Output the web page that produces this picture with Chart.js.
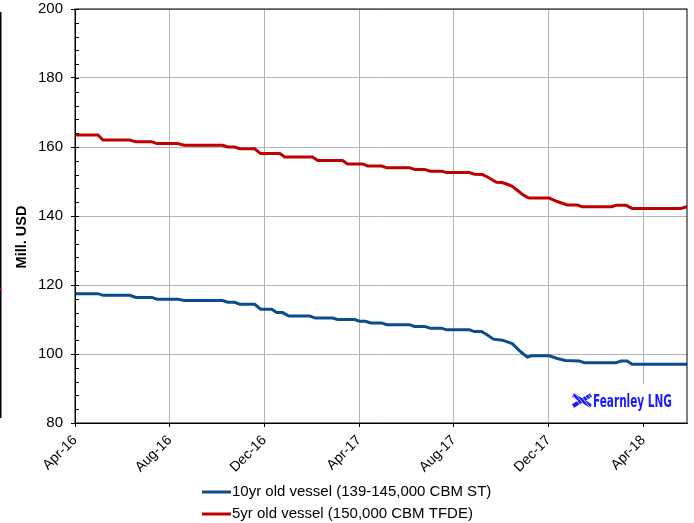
<!DOCTYPE html>
<html>
<head>
<meta charset="utf-8">
<script src="https://cdn.jsdelivr.net/npm/chart.js@4.4.0/dist/chart.umd.min.js"></script>
<style>
  html, body { margin: 0; padding: 0; background: #fff; }
  #wrap { width: 694px; height: 523px; position: relative; }
</style>
</head>
<body>
<div id="wrap"><canvas id="vesselChart" width="694" height="523"></canvas></div>
<script>
// tick labels, one every 4 months starting Apr-16 (x = months since Apr-16)
const xLabels = ["Apr-16", "Aug-16", "Dec-16", "Apr-17", "Aug-17", "Dec-17", "Apr-18"];

const seriesNames = ["10yr old vessel (139-145,000 CBM ST)", "5yr old vessel (150,000 CBM TFDE)"];

const blueMonths = [0, 0.97, 1.18, 2.32, 2.57, 3.25, 3.46, 4.34, 4.60, 6.24, 6.45, 6.75, 6.96, 7.59,
    7.84, 8.31, 8.52, 8.77, 9.03, 9.91, 10.16, 10.88, 11.09, 11.81, 12.02, 12.27, 12.48, 12.95,
    13.16, 14.13, 14.34, 14.76, 15.01, 15.48, 15.69, 16.66, 16.87, 17.17, 17.42, 17.67, 18.05,
    18.26, 18.47, 18.77, 18.94, 19.11, 19.27, 20.03, 20.37, 20.71, 21.30, 21.51, 22.86, 23.07,
    23.32, 23.53, 25.85];
const blueValues = [117.5, 117.5, 117.0, 117.0, 116.4, 116.4, 115.9, 115.9, 115.5, 115.5, 115.0, 115.0, 114.4, 114.4,
    113.0, 113.0, 112.0, 112.0, 111.0, 111.0, 110.4, 110.4, 110.0, 110.0, 109.5, 109.5, 109.0, 109.0,
    108.5, 108.5, 108.0, 108.0, 107.5, 107.5, 107.0, 107.0, 106.5, 106.5, 105.5, 104.3, 104.0,
    103.5, 103.0, 101.0, 100.0, 99.1, 99.5, 99.5, 98.7, 98.1, 98.0, 97.5, 97.5, 98.0,
    98.0, 97.0, 97.0];

const redMonths = [0, 0.97, 1.18, 2.32, 2.57, 3.25, 3.46, 4.34, 4.60, 6.24, 6.45, 6.75, 6.96, 7.59,
    7.84, 8.65, 8.86, 10.04, 10.25, 11.30, 11.51, 12.15, 12.36, 12.95, 13.16, 14.13, 14.34, 14.76,
    15.01, 15.48, 15.69, 16.66, 16.87, 17.21, 17.42, 17.80, 18.05, 18.26, 18.47, 18.89, 19.11,
    19.19, 20.03, 20.37, 20.79, 21.21, 21.42, 22.65, 22.86, 23.28, 23.53, 25.59, 25.85];
const redValues = [163.5, 163.5, 162.0, 162.0, 161.5, 161.5, 161.0, 161.0, 160.5, 160.5, 160.0, 160.0, 159.5, 159.5,
    158.1, 158.1, 157.1, 157.1, 156.1, 156.1, 155.1, 155.1, 154.5, 154.5, 154.0, 154.0, 153.5, 153.5,
    153.0, 153.0, 152.6, 152.6, 152.1, 152.0, 151.3, 149.8, 149.7, 149.2, 148.6, 146.3, 145.4,
    145.2, 145.2, 144.2, 143.2, 143.2, 142.7, 142.7, 143.1, 143.1, 142.2, 142.2, 142.7];

const blueColor = "#0b4d8c";
const redColor = "#c00000";
const gridColor = "#b4b4b4";
const font = "'Liberation Sans', Arial, sans-serif";

function toPoints(xs, ys) {
    return xs.map((x, i) => ({ x: x, y: ys[i] }));
}

const extras = {
    id: "extras",
    afterDatasetsDraw(chart) {
        const ctx = chart.ctx;
        const ca = chart.chartArea;
        const yScale = chart.scales.y;

        // logo box
        ctx.save();
        ctx.fillStyle = "#fff";
        ctx.fillRect(ca.right - 129, ca.bottom - 39, 128, 38);

        ctx.fillStyle = "#1a1aff";
        ctx.strokeStyle = "#1a1aff";
        ctx.lineWidth = 4;
        ctx.beginPath();
        ctx.moveTo(ca.right - 114, ca.bottom - 28);
        ctx.lineTo(ca.right - 96, ca.bottom - 17);
        ctx.moveTo(ca.right - 114, ca.bottom - 17);
        ctx.lineTo(ca.right - 96, ca.bottom - 28);
        ctx.stroke();
        ctx.strokeStyle = "#fff";
        ctx.lineWidth = 0.7;
        for (let i = 0; i < 6; i++) {
            ctx.beginPath();
            ctx.moveTo(ca.right - 116 + i * 4, ca.bottom - 30);
            ctx.lineTo(ca.right - 104 + i * 4, ca.bottom - 14);
            ctx.stroke();
        }

        ctx.font = "bold 18px 'DejaVu Sans Condensed', 'DejaVu Sans', sans-serif";
        ctx.textBaseline = "alphabetic";
        const w = ctx.measureText("Fearnley LNG").width;
        ctx.translate(ca.right - 94, ca.bottom - 16);
        ctx.scale(79 / w, 1);
        ctx.fillText("Fearnley LNG", 0, 0);
        ctx.restore();

        // plot frame + inner ticks
        ctx.save();
        ctx.strokeStyle = "#000";
        ctx.lineWidth = 1;
        ctx.strokeRect(ca.left, ca.top, ca.right - ca.left, ca.bottom - ca.top);
        ctx.beginPath();
        yScale.ticks.forEach(t => {
            const py = Math.round(yScale.getPixelForValue(t.value)) + 0.5;
            ctx.moveTo(ca.left, py);
            ctx.lineTo(ca.left + 4, py);
        });
        ctx.stroke();
        ctx.restore();
    },
    afterDraw(chart) {
        const ctx = chart.ctx;

        // y title
        ctx.save();
        ctx.fillStyle = "#000";
        ctx.font = "bold 14.5px " + font;
        ctx.textAlign = "center";
        ctx.textBaseline = "middle";
        ctx.translate(22, 237);
        ctx.rotate(-Math.PI / 2);
        ctx.fillText("Mill. USD", 0, 0);
        ctx.restore();

        // left edge line
        ctx.save();
        ctx.fillStyle = "#000";
        ctx.fillRect(0, 12, 1.5, 406);
        ctx.fillStyle = redColor;
        ctx.fillRect(0, 288, 1.5, 2);
        ctx.restore();

        // legend
        ctx.save();
        ctx.font = "15px " + font;
        ctx.textBaseline = "middle";
        ctx.fillStyle = "#000";
        chart.data.datasets.forEach((ds, i) => {
            const y = 492 + i * 22;
            ctx.strokeStyle = ds.borderColor;
            ctx.lineWidth = 3;
            ctx.beginPath();
            ctx.moveTo(202, y);
            ctx.lineTo(231, y);
            ctx.stroke();
            ctx.fillText(ds.label, 232, y);
        });
        ctx.restore();
    }
};

new Chart(document.getElementById("vesselChart"), {
    type: "line",
    data: {
        datasets: [{
            label: seriesNames[0],
            data: toPoints(blueMonths, blueValues),
            borderColor: blueColor,
            borderWidth: 3,
            pointRadius: 0,
            tension: 0
        }, {
            label: seriesNames[1],
            data: toPoints(redMonths, redValues),
            borderColor: redColor,
            borderWidth: 3,
            pointRadius: 0,
            tension: 0
        }]
    },
    options: {
        responsive: false,
        animation: false,
        layout: { padding: { top: 9, right: 7, left: 0, bottom: 0 } },
        plugins: {
            legend: { display: false },
            tooltip: { enabled: false }
        },
        scales: {
            x: {
                type: "linear",
                min: 0,
                max: 25.85,
                afterFit: scale => { scale.height = 100; scale.paddingRight = 0; },
                grid: { color: gridColor, tickColor: "#000", tickLength: 4 },
                border: { color: "#000", width: 1 },
                ticks: {
                    stepSize: 4,
                    includeBounds: false,
                    autoSkip: false,
                    minRotation: 45,
                    maxRotation: 45,
                    padding: 5,
                    color: "#000",
                    font: { family: font, size: 14 },
                    callback: v => (v % 4 === 0 ? xLabels[v / 4] : "")
                }
            },
            y: {
                min: 80,
                max: 200,
                afterFit: scale => { scale.width = 75; scale.paddingTop = 0; scale.paddingBottom = 0; },
                grid: {
                    color: c => (c.tick && c.tick.value % 20 === 0 ? gridColor : "rgba(0,0,0,0)"),
                    tickColor: c => (c.tick && c.tick.value % 20 === 0 ? "#000" : "rgba(0,0,0,0)"),
                    tickLength: 4
                },
                border: { color: "#000", width: 1 },
                ticks: {
                    stepSize: 4,
                    autoSkip: false,
                    padding: 8,
                    color: "#000",
                    font: { family: font, size: 15 },
                    callback: v => (v % 20 === 0 ? v : "")
                }
            }
        }
    },
    plugins: [extras]
});
</script>
</body>
</html>
